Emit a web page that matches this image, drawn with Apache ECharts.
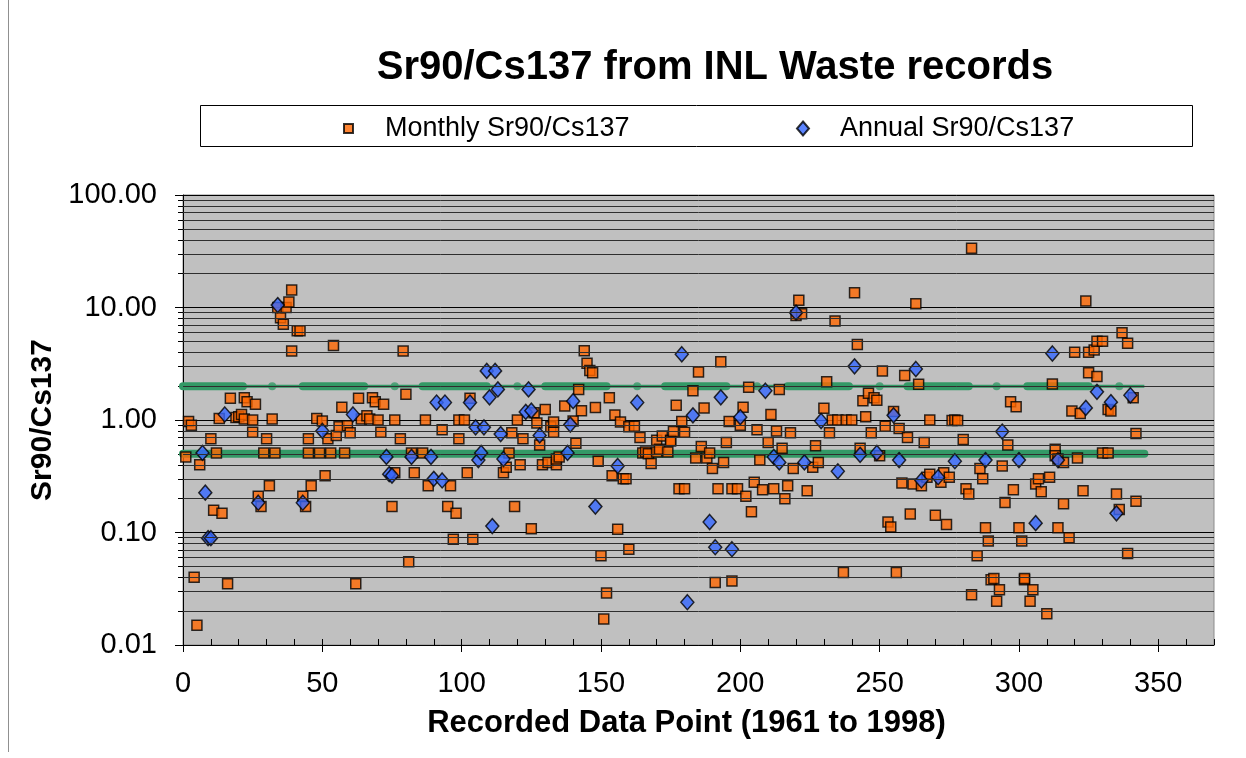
<!DOCTYPE html>
<html>
<head>
<meta charset="utf-8">
<script src="https://cdn.jsdelivr.net/npm/echarts@6/dist/echarts.min.js"></script>
<style>
    html, body { margin: 0; padding: 0; background: #fff; }
    #chart { width: 1246px; height: 758px; }
</style>
</head>
<body>
<div id="chart"></div>
<script>
// monthly ratios: [data point, Sr90/Cs137]
var monthly = [
    [1,0.47],[2,0.97],[3,0.90],[4,0.040],[5,0.015],[6,0.40],[10,0.68],[11,0.158],[12,0.51],[13,1.03],
    [14,0.148],[16,0.035],[17,1.56],[19,1.05],[20,1.07],[21,1.12],[22,1.58],[22,1.02],[23,1.45],[25,1.0],
    [25,0.78],[26,1.38],[27,0.21],[28,0.17],[29,0.51],[30,0.68],[31,0.26],[32,1.02],[33,0.51],[34,10.0],
    [35,8.1],[36,7.1],[37,10.0],[38,11.2],[39,14.3],[39,4.1],[41,6.2],[42,6.2],[43,0.21],[44,0.17],
    [45,0.68],[45,0.51],[46,0.26],[48,1.03],[49,0.51],[50,0.98],[51,0.32],[52,0.68],[53,0.51],[54,4.6],
    [55,0.73],[56,0.87],[57,1.30],[58,0.51],[59,0.89],[60,0.77],[62,0.035],[63,1.56],[64,1.02],[66,1.09],
    [67,1.02],[68,1.58],[69,1.45],[70,1.0],[71,0.78],[72,1.38],[75,0.17],[76,1.0],[76,0.34],[78,0.68],
    [79,4.1],[80,1.69],[81,0.055],[82,0.51],[83,0.34],[86,0.51],[87,1.0],[88,0.26],[93,0.82],[95,0.17],
    [96,0.26],[97,0.087],[98,0.148],[99,0.68],[99,1.0],[101,1.0],[102,0.34],[103,1.56],[104,0.087],[115,0.34],
    [116,0.38],[117,0.51],[118,0.77],[119,0.17],[120,1.0],[121,0.40],[122,0.68],[125,0.108],[126,1.16],[127,0.94],
    [128,0.60],[129,0.40],[130,1.24],[131,0.42],[132,0.87],[133,0.78],[133,0.96],[134,0.40],[134,0.45],[135,0.47],
    [137,1.33],[140,0.98],[141,0.62],[142,1.87],[143,1.21],[144,4.13],[145,3.2],[146,2.75],[147,2.63],[148,1.29],
    [149,0.43],[150,0.062],[151,0.017],[152,0.029],[153,1.58],[154,0.32],[155,1.11],[156,0.107],[157,0.96],[158,0.30],
    [159,0.30],[160,0.071],[160,0.87],[162,0.88],[164,0.70],[165,0.51],[166,0.52],[167,0.50],[168,0.41],[170,0.52],
    [170,0.66],[171,0.55],[172,0.72],[174,0.52],[175,0.66],[175,0.65],[176,0.79],[177,1.35],[178,0.245],[179,0.97],
    [180,0.78],[180,0.245],[183,1.82],[184,0.46],[185,2.67],[186,0.58],[187,1.28],[188,0.46],[189,0.51],[190,0.37],
    [191,0.036],[192,0.245],[193,3.3],[194,0.42],[195,0.63],[196,0.97],[197,0.037],[197,0.245],[199,0.245],[200,0.90],
    [201,1.30],[202,0.21],[203,1.95],[204,0.153],[205,0.28],[206,0.82],[207,0.44],[208,0.24],[210,0.63],[211,1.12],
    [212,0.245],[213,0.80],[214,1.87],[215,0.56],[216,0.20],[217,0.26],[218,0.77],[219,0.37],[220,8.5],[221,11.6],
    [222,8.8],[224,0.235],[226,0.38],[227,0.59],[228,0.42],[230,1.27],[231,2.19],[232,0.77],[233,1.0],[234,7.6],
    [235,1.0],[237,0.044],[238,1.0],[240,1.0],[241,13.5],[242,4.68],[243,0.56],[244,1.48],[245,1.07],[246,1.73],
    [247,0.77],[248,1.58],[249,1.50],[250,0.48],[251,2.73],[252,0.88],[253,0.124],[254,0.112],[255,1.19],[256,0.044],
    [257,0.84],[258,0.275],[259,2.48],[260,0.70],[261,0.146],[262,0.27],[263,10.8],[264,2.08],[265,0.26],[266,0.63],
    [267,0.31],[268,1.0],[268,0.33],[270,0.142],[272,0.28],[273,0.34],[274,0.118],[275,0.31],[276,0.99],[277,1.0],
    [278,0.99],[280,0.67],[281,0.245],[282,0.22],[283,33.6],[283,0.028],[285,0.062],[286,0.37],[287,0.30],[288,0.11],
    [289,0.084],[290,0.038],[291,0.039],[292,0.0245],[293,0.031],[294,0.39],[295,0.185],[296,0.60],[297,1.45],[298,0.24],
    [299,1.31],[300,0.11],[301,0.084],[302,0.038],[302,0.039],[304,0.0245],[305,0.031],[306,0.27],[307,0.30],[308,0.23],
    [310,0.019],[311,0.31],[312,2.09],[313,0.55],[313,0.48],[314,0.11],[314,0.45],[316,0.18],[316,0.42],[318,0.09],
    [319,1.2],[320,4.0],[321,0.46],[322,1.14],[323,0.235],[324,11.4],[325,2.63],[325,4.0],[327,4.2],[328,2.43],
    [328,5.0],[330,5.0],[330,0.51],[332,0.51],[332,1.24],[333,1.2],[335,0.22],[336,0.16],[337,5.97],[339,0.065],
    [339,4.8],[341,1.58],[342,0.19],[342,0.76]
];

// annual ratios
var annual = [
    [7,0.51],[8,0.226],[9,0.089],[10,0.089],[15,1.12],[27,0.184],[34,10.5],[43,0.184],[50,0.80],[61,1.12],
    [73,0.47],[74,0.33],[75,0.32],[82,0.47],[89,0.47],[90,0.30],[91,1.43],[93,0.29],[94,1.43],[103,1.43],
    [105,0.86],[106,0.44],[107,0.51],[108,0.86],[109,2.73],[110,1.59],[111,0.114],[112,2.73],[113,1.87],[114,0.75],
    [115,0.45],[123,1.18],[124,1.87],[125,1.21],[128,0.73],[138,0.51],[139,0.91],[140,1.47],[148,0.17],[156,0.39],
    [163,1.43],[179,3.84],[181,0.024],[183,1.1],[189,0.124],[191,0.074],[193,1.59],[197,0.071],[200,1.06],[209,1.82],
    [212,0.47],[214,0.42],[220,9.0],[223,0.42],[229,0.98],[235,0.35],[241,3.0],[243,0.49],[249,0.51],[255,1.1],
    [257,0.44],[263,2.84],[265,0.29],[271,0.31],[277,0.43],[288,0.44],[294,0.79],[300,0.44],[306,0.121],[312,3.9],
    [314,0.44],[324,1.28],[328,1.78],[333,1.44],[335,0.148],[340,1.66]
];

// green reference bands
var upperLevel = 2.0;
var lowerLevel = 0.5;
var upperThick = [[0,21.5],[43,65],[86,109],[130,152],[173,195],[217,239],[260,282],[303,325]];
var upperDots = [32,76,120,163,206,250,292,336];
var lowerThick = [[0,345]];
var bandEnd = 345;

var yTicks = [0.01, 0.1, 1, 10, 100];
var minorGrid = [];
yTicks.slice(0, 4).forEach(function (d) {
    for (var k = 2; k <= 9; k++) minorGrid.push(+(d * k).toPrecision(3));
});

function segData(segs, level) {
    var out = [];
    segs.forEach(function (s) {
        out.push([s[0], level], [s[1], level], [s[1], '-']);
    });
    return out;
}

var chart = echarts.init(document.getElementById('chart'), null, {renderer: 'canvas'});
var font = 'Liberation Sans, Arial, sans-serif';

var option = {
    animation: false,
    backgroundColor: '#ffffff',
    title: {
        text: 'Sr90/Cs137 from INL Waste records',
        left: 710,
        top: 43,
        textAlign: 'center',
        textStyle: {fontFamily: font, fontSize: 40, fontWeight: 'bold', color: '#000'}
    },
    legend: [{
        data: ['Monthly Sr90/Cs137'],
        left: 338,
        top: 110,
        itemWidth: 9,
        itemHeight: 9,
        textStyle: {fontFamily: font, fontSize: 27, color: '#000', padding: [0, 0, 0, 27]}
    }, {
        data: ['Annual Sr90/Cs137'],
        left: 791,
        top: 110,
        itemWidth: 12,
        itemHeight: 14,
        textStyle: {fontFamily: font, fontSize: 27, color: '#000', padding: [0, 0, 0, 26]}
    }],
    graphic: [{
        type: 'rect',
        shape: {x: 200.5, y: 105.5, width: 992, height: 41},
        style: {fill: 'none', stroke: '#000', lineWidth: 1},
        z: -1
    }, {
        type: 'line',
        shape: {x1: 8.5, y1: 0, x2: 8.5, y2: 752},
        style: {stroke: '#909090', lineWidth: 1}
    }],
    grid: {
        left: 183, right: 32, top: 195, bottom: 113,
        show: true,
        backgroundColor: '#c0c0c0',
        borderColor: '#8c8c8c',
        borderWidth: 1
    },
    xAxis: [{
        type: 'value',
        min: 0, max: 370, interval: 50,
        name: 'Recorded Data Point (1961 to 1998)',
        nameLocation: 'middle',
        nameGap: 63,
        nameTextStyle: {fontFamily: font, fontSize: 31, fontWeight: 'bold', color: '#000', padding: [0, 24, 0, 0]},
        axisLine: {show: true, lineStyle: {color: '#000', width: 1}},
        axisTick: {show: true, inside: false, length: 7, lineStyle: {color: '#000'}},
        axisLabel: {fontFamily: font, fontSize: 29, color: '#000', margin: 24, showMaxLabel: false},
        splitLine: {show: false}
    }, {
        type: 'value',
        min: 0, max: 370, interval: 10,
        position: 'bottom',
        axisLine: {show: false},
        axisTick: {show: true, inside: true, length: 6, lineStyle: {color: '#000'}},
        axisLabel: {show: false},
        splitLine: {show: false}
    }],
    yAxis: [{
        type: 'log',
        logBase: 10,
        min: 0.01, max: 100,
        splitNumber: 4,
        name: 'Sr90/Cs137',
        nameLocation: 'middle',
        nameGap: 111,
        nameTextStyle: {fontFamily: font, fontSize: 30, fontWeight: 'bold', color: '#000'},
        axisLine: {show: true, lineStyle: {color: '#000', width: 1}},
        axisTick: {show: true, inside: false, length: 8, lineStyle: {color: '#000'}},
        axisLabel: {
            fontFamily: font, fontSize: 29, color: '#000', margin: 26,
            formatter: function (v) { return v.toFixed(2); }
        },
        splitLine: {show: true, lineStyle: {color: '#000', width: 1}}
    }, {
        type: 'log',
        logBase: 10,
        min: 0.01, max: 100,
        position: 'left',
        axisLine: {show: false},
        axisTick: {show: true, inside: false, length: 5, customValues: minorGrid, lineStyle: {color: '#000'}},
        axisLabel: {show: false},
        splitLine: {show: false}
    }],
    series: [{
        name: 'grid-minor',
        type: 'line',
        data: [],
        z: 1,
        silent: true,
        markLine: {
            silent: true,
            symbol: 'none',
            label: {show: false},
            lineStyle: {color: '#2e2e2e', width: 1, type: 'solid'},
            data: minorGrid.map(function (v) { return {yAxis: v}; })
        }
    }, {
        name: 'upper-thin',
        type: 'line',
        z: 2,
        silent: true,
        symbol: 'none',
        data: [[0, upperLevel], [bandEnd, upperLevel]],
        lineStyle: {color: '#339966', width: 3}
    }, {
        name: 'upper-thick',
        type: 'line',
        z: 2,
        silent: true,
        symbol: 'none',
        connectNulls: false,
        data: segData(upperThick, upperLevel),
        lineStyle: {color: '#339966', width: 8, cap: 'round'}
    }, {
        name: 'upper-dots',
        type: 'scatter',
        z: 2,
        silent: true,
        symbol: 'circle',
        symbolSize: 8,
        data: upperDots.map(function (x) { return [x, upperLevel]; }),
        itemStyle: {color: '#339966'}
    }, {
        name: 'lower-thick',
        type: 'line',
        z: 2,
        silent: true,
        symbol: 'none',
        data: segData(lowerThick, lowerLevel),
        lineStyle: {color: '#339966', width: 8, cap: 'round'}
    }, {
        name: 'Monthly Sr90/Cs137',
        type: 'scatter',
        z: 3,
        symbol: 'rect',
        symbolSize: 10,
        data: monthly,
        itemStyle: {color: '#ff6600', borderColor: '#000', borderWidth: 1.5}
    }, {
        name: 'Annual Sr90/Cs137',
        type: 'scatter',
        z: 4,
        symbol: 'diamond',
        symbolSize: [13, 15],
        data: annual,
        itemStyle: {color: '#3366ff', borderColor: '#000', borderWidth: 1.5}
    }]
};

chart.setOption(option);
</script>
</body>
</html>
